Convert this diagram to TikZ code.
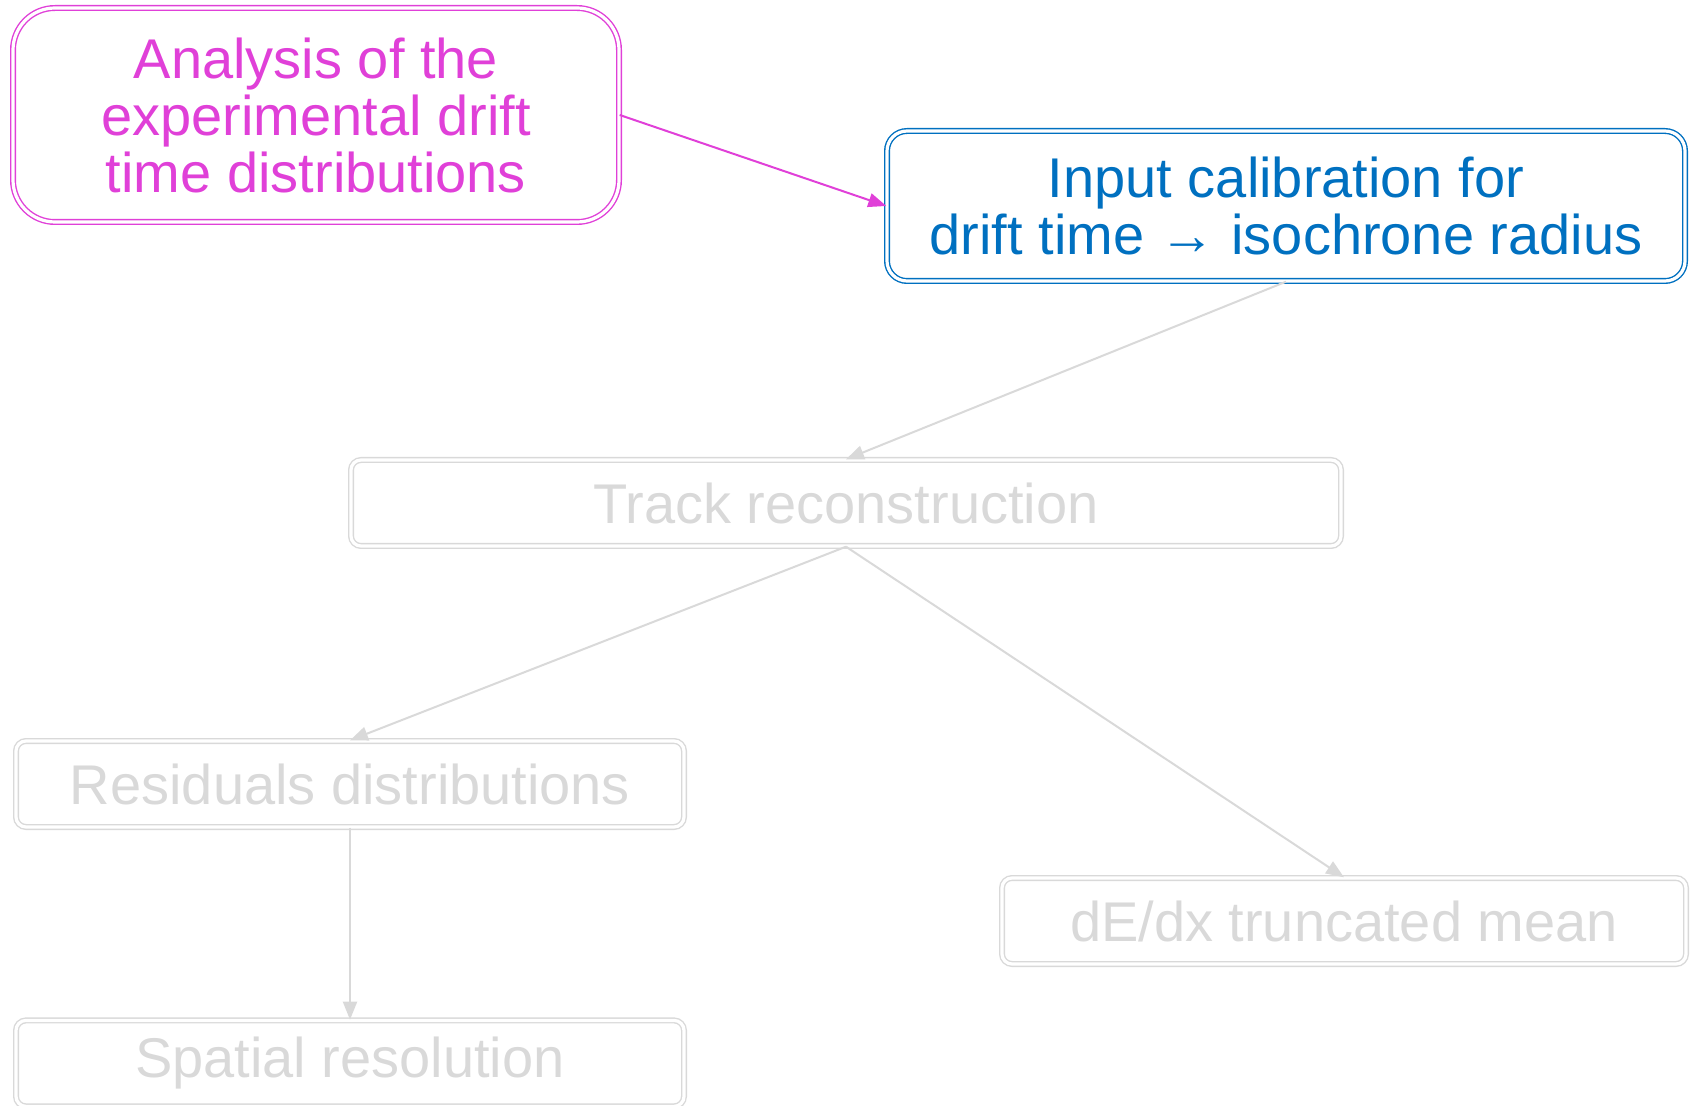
\documentclass[tikz,border=0pt]{standalone}
\usepackage{fontspec}
\setmainfont{Liberation Sans}
\usetikzlibrary{arrows.meta, positioning}
\definecolor{pinkline}{RGB}{224,64,216}
\definecolor{blueline}{RGB}{0,112,192}
\definecolor{greyline}{RGB}{217,217,217}

\begin{document}
\begin{tikzpicture}[
    x=0.5pt, y=-0.5pt,
    flowbox/.style={rectangle, draw=greyline, text=greyline, double, double distance=1.6pt, line width=0.7pt, rounded corners=5pt, align=center, inner sep=0pt, minimum height=43pt, font=\fontsize{28}{28.5}\selectfont},
    pinkbox/.style={flowbox, draw=pinkline, text=pinkline, rounded corners=21pt},
    bluebox/.style={flowbox, draw=blueline, text=blueline, rounded corners=10pt},
    arrow/.style={-{Triangle[length=9pt, width=7pt]}, line width=1pt, greyline}
]
\useasboundingbox (0,0) rectangle (1691,1106);

% Calibration inputs
\node[pinkbox, minimum width=303pt, minimum height=107pt] (analysis) at (316,115) {Analysis of the\\experimental drift\\time distributions};
\node[bluebox, minimum width=399pt, minimum height=75pt] (calib) at (1286,206) {Input calibration for\\drift time → isochrone radius};

% Reconstruction chain
\node[flowbox, minimum width=495pt] (track) at (846,503) {Track reconstruction};
\node[flowbox, minimum width=334pt] (resid) at (350,784) {Residuals distributions};
\node[flowbox, minimum width=334pt, below=96pt of resid.south, anchor=north] (spatial) {Spatial resolution};
\node[flowbox, minimum width=342pt] (dedx) at (1344,921) {dE/dx truncated mean};

% Connectors
\draw[arrow, pinkline] (analysis.east) -- (calib.west);
\draw[arrow] (calib.south) -- (track.north);
\draw[arrow] (track.south) -- (resid.north);
\draw[arrow] (track.south) -- (dedx.north);
\draw[arrow] (resid.south) -- (spatial.north);

\end{tikzpicture}
\end{document}
